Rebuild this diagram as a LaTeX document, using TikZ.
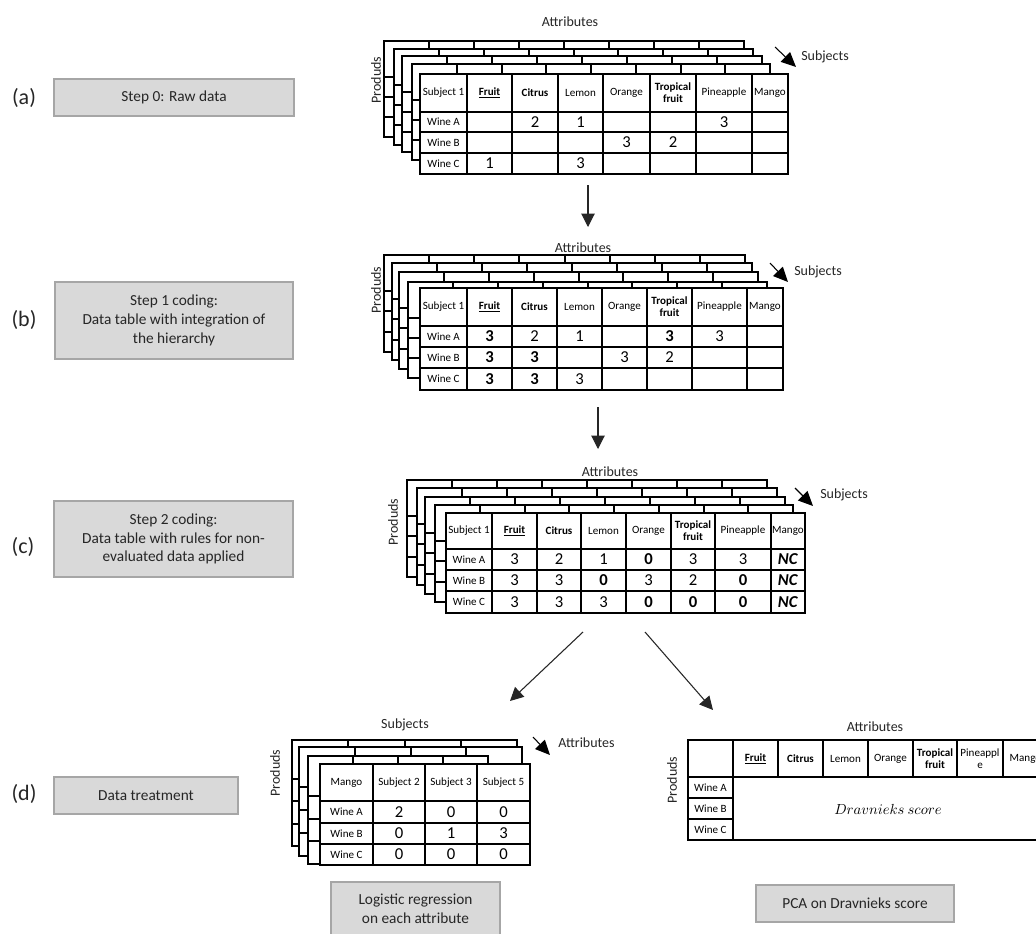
\documentclass[tikz,border=0pt]{standalone}
\usepackage{fontspec}
\setmainfont{Carlito}
\usetikzlibrary{arrows.meta}
\definecolor{boxfill}{HTML}{D9D9D9}
\definecolor{boxline}{HTML}{A6A6A6}
\definecolor{txt}{HTML}{262626}
\newcommand\bsheet[5]{%
  \pgfmathsetmacro\bw{(#3-#1)/#5}%
  \pgfmathsetmacro\bh{#4-#2}%
  \pgfmathtruncatemacro\bn{#5-1}%
  \filldraw[gridline,fill=white] (#1,#2) rectangle (#3,#4);
  \foreach \k in {1,...,\bn} {\draw[gridline] ({#1+\k*\bw},#2) -- ({#1+\k*\bw},#4);}
  \foreach \f in {0.37,0.58,0.79} {\draw[gridline] (#1,{#2+\f*\bh}) -- (#3,{#2+\f*\bh});}
}
\tikzset{
  gridline/.style={draw=black, line width=1.5pt},
  hd/.style={font=\fontsize{8.3}{9}\selectfont, align=center, inner sep=0pt},
  rl/.style={font=\fontsize{8.3}{9}\selectfont, inner sep=0pt},
  num/.style={font=\fontsize{12.5}{14}\selectfont, inner sep=0pt},
  axis/.style={font=\fontsize{10.5}{12}\selectfont, inner sep=0pt, text=txt},
  lab/.style={font=\fontsize{16.5}{19}\selectfont, inner sep=0pt, text=txt},
  stepbox/.style={draw=boxline, fill=boxfill, line width=1.5pt, font=\fontsize{11.5}{14}\selectfont, align=center, text=txt, inner sep=0pt},
  arr/.style={draw=black!85, line width=0.8pt, -{Triangle[length=10pt,width=10pt]}},
  sarr/.style={draw=black, line width=0.8pt, -{Triangle[length=11pt,width=10pt]}},
}
\begin{document}
\begin{tikzpicture}[x=0.75pt,y=-0.75pt]
\clip (0,0) rectangle (1036,933);
\fill[white] (0,0) rectangle (1036,933);

% ---------- left labels and step boxes ----------
\node[lab] (la) at (24,98) {(a)};
\node[lab] (lb) at (24,320) {(b)};
\node[lab] (lc) at (23,547) {(c)};
\node[lab] (ld) at (24,794) {(d)};
\node[stepbox, minimum width=180pt, minimum height=27.75pt] (sa) at (174,97.5) {Step 0: Raw data};
\node[stepbox, minimum width=178.5pt, minimum height=57.75pt] (sb) at (174,320.5) {Step 1 coding:\\Data table with integration of\\the hierarchy};
\node[stepbox, minimum width=179.25pt, minimum height=57pt] (sc) at (173.5,539) {Step 2 coding:\\Data table with rules for non-\\evaluated data applied};
\node[stepbox, minimum width=138pt, minimum height=27.75pt] (sd) at (146,795.5) {Data treatment};
\node[stepbox, minimum width=126.75pt, minimum height=41.25pt] (slr) at (415.5,909) {Logistic regression\\on each attribute};
\node[stepbox, minimum width=148.5pt, minimum height=27.75pt] (spca) at (855,903.5) {PCA on Dravnieks score};

% ---------- table (a) ----------
\node[axis] (a-attr) at (570,22) {Attributes};
\node[axis, rotate=90] (a-prod) at (376,80) {Produds};
\bsheet{384}{41}{744}{137}{8}
\bsheet{394}{49}{753}{145}{8}
\bsheet{402}{56}{762}{152}{8}
\bsheet{412}{64}{770}{160}{8}
\filldraw[gridline,fill=white] (420,74) rectangle (788,174);
\foreach \x in {467,512,558,603,650,696,752} \draw[gridline] (\x,74) -- (\x,174);
\foreach \y in {112,132,153} \draw[gridline] (420,\y) -- (788,\y);
\foreach \x/\t [count=\i] in {443.5/{Subject 1}, 489.5/{\textbf{\underline{Fruit}}}, 535/{\textbf{Citrus}}, 580.5/Lemon, 626.5/Orange, 673/{\textbf{Tropical}\\\textbf{fruit}}, 724/Pineapple, 770/Mango}
  \node[hd] (a-h\i) at (\x,93) {\t};
\foreach \y/\t [count=\i] in {122/Wine A, 142.5/Wine B, 163.5/Wine C}
  \node[rl] (a-r\i) at (443.5,\y) {\t};
\foreach \x/\y/\t [count=\i] in {535/122/2, 580.5/122/1, 724/122/3, 626.5/142.5/3, 673/142.5/2, 489.5/163.5/1, 580.5/163.5/3}
  \node[num] (a-d\i) at (\x,\y) {\t};
\coordinate (a-s1) at (775,47); \coordinate (a-s2) at (796,67);
\draw[sarr] (a-s1) -- (a-s2);
\node[axis, anchor=west] (a-subj) at (801,57) {Subjects};

% ---------- arrow a -> b ----------
\coordinate (a-out) at (588,185); \coordinate (b-in) at (588,227);
\draw[arr] (a-out) -- (b-in);

% ---------- table (b) ----------
\node[axis] (b-attr) at (583,248) {Attributes};
\node[axis, rotate=90] (b-prod) at (376,290) {Produds};
\bsheet{384}{255}{745}{352}{8}
\bsheet{392}{263}{752}{360}{8}
\bsheet{399}{272}{758}{369}{8}
\bsheet{408}{282}{767}{378}{8}
\filldraw[gridline,fill=white] (420,288) rectangle (783,390);
\foreach \x in {467,512,557,602,647,692,747} \draw[gridline] (\x,288) -- (\x,390);
\foreach \y in {326,347,368} \draw[gridline] (420,\y) -- (783,\y);
\foreach \x/\t [count=\i] in {443.5/{Subject 1}, 489.5/{\textbf{\underline{Fruit}}}, 534.5/{\textbf{Citrus}}, 579.5/Lemon, 624.5/Orange, 669.5/{\textbf{Tropical}\\\textbf{fruit}}, 719.5/Pineapple, 765/Mango}
  \node[hd] (b-h\i) at (\x,307) {\t};
\foreach \y/\t [count=\i] in {336.5/Wine A, 357.5/Wine B, 379/Wine C}
  \node[rl] (b-r\i) at (443.5,\y) {\t};
\foreach \x/\y/\t [count=\i] in {489.5/336.5/{\textbf{3}}, 534.5/336.5/2, 579.5/336.5/1, 669.5/336.5/{\textbf{3}}, 719.5/336.5/3,
  489.5/357.5/{\textbf{3}}, 534.5/357.5/{\textbf{3}}, 624.5/357.5/3, 669.5/357.5/2,
  489.5/379/{\textbf{3}}, 534.5/379/{\textbf{3}}, 579.5/379/3}
  \node[num] (b-d\i) at (\x,\y) {\t};
\coordinate (b-s1) at (770,263); \coordinate (b-s2) at (788,282);
\draw[sarr] (b-s1) -- (b-s2);
\node[axis, anchor=west] (b-subj) at (794,272) {Subjects};

% ---------- arrow b -> c ----------
\coordinate (b-out) at (598,407); \coordinate (c-in) at (598,449);
\draw[arr] (b-out) -- (c-in);

% ---------- table (c) ----------
\node[axis] (c-attr) at (610,472) {Attributes};
\node[axis, rotate=90] (c-prod) at (393,522) {Produds};
\bsheet{407}{480}{767}{577}{8}
\bsheet{417}{488}{777}{585}{8}
\bsheet{425}{497}{785}{594}{8}
\bsheet{435}{505}{793}{602}{8}
\filldraw[gridline,fill=white] (446,513) rectangle (805,613);
\foreach \x in {492,537,581,626,671,715,771} \draw[gridline] (\x,513) -- (\x,613);
\foreach \y in {549,570,591} \draw[gridline] (446,\y) -- (805,\y);
\foreach \x/\t [count=\i] in {469/{Subject 1}, 514.5/{\textbf{\underline{Fruit}}}, 559/{\textbf{Citrus}}, 603.5/Lemon, 648.5/Orange, 693/{\textbf{Tropical}\\\textbf{fruit}}, 743/Pineapple, 788/Mango}
  \node[hd] (c-h\i) at (\x,531) {\t};
\foreach \y/\t [count=\i] in {559.5/Wine A, 580.5/Wine B, 602/Wine C}
  \node[rl] (c-r\i) at (469,\y) {\t};
\foreach \x/\y/\t [count=\i] in {
  514.5/559.5/3, 559/559.5/2, 603.5/559.5/1, 648.5/559.5/{\textbf{0}}, 693/559.5/3, 743/559.5/3, 788/559.5/{\textbf{\textit{NC}}},
  514.5/580.5/3, 559/580.5/3, 603.5/580.5/{\textbf{0}}, 648.5/580.5/3, 693/580.5/2, 743/580.5/{\textbf{0}}, 788/580.5/{\textbf{\textit{NC}}},
  514.5/602/3, 559/602/3, 603.5/602/3, 648.5/602/{\textbf{0}}, 693/602/{\textbf{0}}, 743/602/{\textbf{0}}, 788/602/{\textbf{\textit{NC}}}}
  \node[num] (c-d\i) at (\x,\y) {\t};
\coordinate (c-s1) at (795,488); \coordinate (c-s2) at (813,506);
\draw[sarr] (c-s1) -- (c-s2);
\node[axis, anchor=west] (c-subj) at (820,495) {Subjects};

% ---------- arrows c -> d ----------
\coordinate (c-outl) at (583,632); \coordinate (dl-in) at (510,701);
\coordinate (c-outr) at (645,632); \coordinate (dr-in) at (713,710);
\draw[arr] (c-outl) -- (dl-in);
\draw[arr] (c-outr) -- (dr-in);

% ---------- table (d) left ----------
\node[axis] (dl-subj) at (405,725) {Subjects};
\node[axis, rotate=90] (dl-prod) at (275,773) {Produds};
\bsheet{292}{740}{517}{846}{4}
\bsheet{299}{747}{522}{856}{4}
\bsheet{308}{756}{488}{864}{4}
\filldraw[gridline,fill=white] (320,764) rectangle (530,865);
\foreach \x in {373,425,477} \draw[gridline] (\x,764) -- (\x,865);
\foreach \y in {801,823,844} \draw[gridline] (320,\y) -- (530,\y);
\foreach \x/\t [count=\i] in {346.5/Mango, 399/{Subject 2}, 451/{Subject 3}, 503.5/{Subject 5}}
  \node[hd] (dl-h\i) at (\x,782.5) {\t};
\foreach \y/\t [count=\i] in {812/Wine A, 833.5/Wine B, 854.5/Wine C}
  \node[rl] (dl-r\i) at (346.5,\y) {\t};
\foreach \x/\y/\t [count=\i] in {399/812/2, 451/812/0, 503.5/812/0, 399/833.5/0, 451/833.5/1, 503.5/833.5/3, 399/854.5/0, 451/854.5/0, 503.5/854.5/0}
  \node[num] (dl-d\i) at (\x,\y) {\t};
\coordinate (dl-s1) at (533,737); \coordinate (dl-s2) at (550,755);
\draw[sarr] (dl-s1) -- (dl-s2);
\node[axis, anchor=west] (dl-attr) at (558,743) {Attributes};

% ---------- table (d) right ----------
\node[axis] (dr-attr) at (875,727) {Attributes};
\node[axis, rotate=90] (dr-prod) at (672,780) {Produds};
\filldraw[gridline,fill=white] (688,740) rectangle (1050,840);
\draw[gridline] (688,777) -- (1050,777);
\draw[gridline] (733,740) -- (733,840);
\foreach \x in {778,823,868,913,957,1003} \draw[gridline] (\x,740) -- (\x,777);
\foreach \y in {798,819} \draw[gridline] (688,\y) -- (733,\y);
\foreach \x/\t [count=\i] in {755.5/{\textbf{\underline{Fruit}}}, 800.5/{\textbf{Citrus}}, 845.5/Lemon, 890.5/Orange, 935/{\textbf{Tropical}\\\textbf{fruit}}, 980/{Pineappl\\e}, 1025.5/Mango}
  \node[hd] (dr-h\i) at (\x,758.5) {\t};
\foreach \y/\t [count=\i] in {787.5/Wine A, 808.5/Wine B, 829.5/Wine C}
  \node[rl] (dr-r\i) at (710.5,\y) {\t};
\node[font=\fontsize{10.5}{12}\selectfont, inner sep=0pt] (dr-score) at (888,809) {$Dravnieks\ score$};
\end{tikzpicture}
\end{document}
